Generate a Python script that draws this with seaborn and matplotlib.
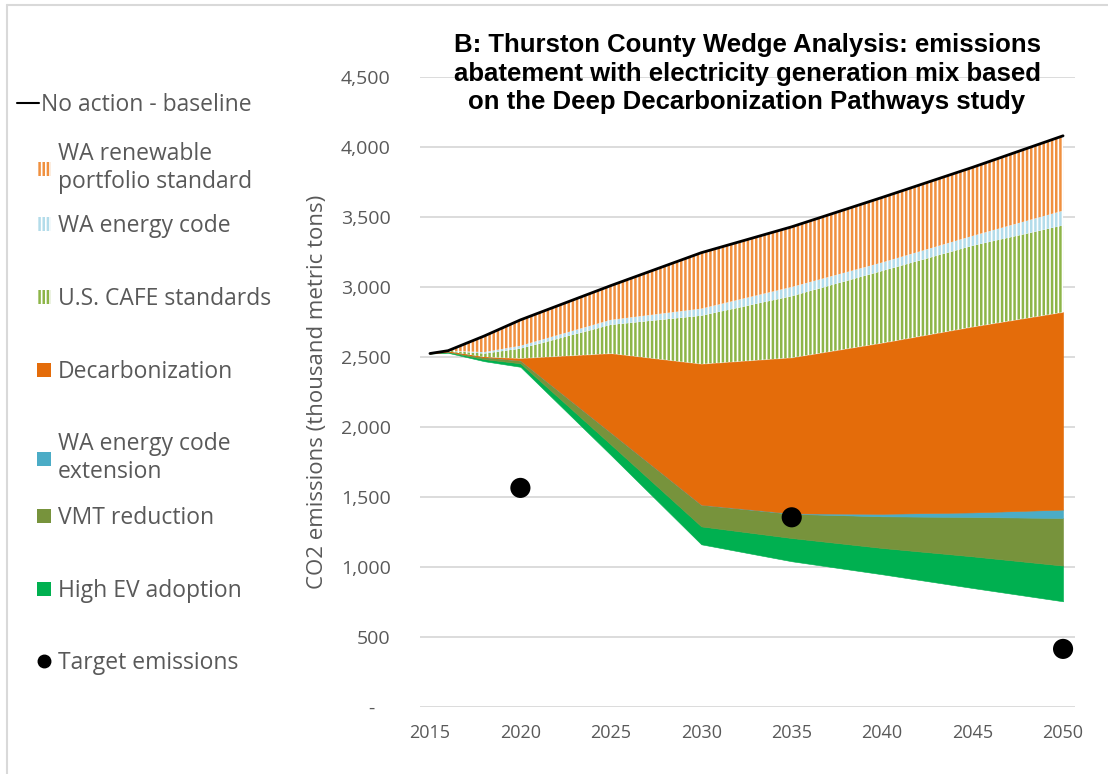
import numpy as np
import pandas as pd
import matplotlib
matplotlib.use('Agg')
import matplotlib.pyplot as plt
from matplotlib.patches import Patch
from matplotlib.lines import Line2D
import seaborn as sns

# thousand metric tons CO2
years = [2015, 2016, 2018, 2020, 2025, 2030, 2035, 2040, 2045, 2050]
remaining = [2525, 2530, 2470, 2430, 1800, 1162, 1041, 948, 850, 755]
high_ev = [0, 5, 15, 25, 75, 128, 166, 188, 226, 255]
vmt = [0, 5, 15, 20, 85, 155, 173, 226, 281, 340]
code_ext = [0, 0, 0, 0, 0, 0, 3, 18, 33, 60]
decarb = [0, 0, 0, 15, 565, 1005, 1112, 1220, 1325, 1410]
cafe = [0, 5, 25, 70, 205, 345, 440, 515, 580, 620]
energy_code = [0, 0, 10, 20, 35, 50, 65, 60, 70, 105]
rps = [0, 0, 115, 185, 245, 400, 430, 465, 490, 535]

target_years = [2020, 2035, 2050]
target_values = [1565, 1355, 415]

x_ticks = [2015, 2020, 2025, 2030, 2035, 2040, 2045, 2050]
y_ticks = [0, 500, 1000, 1500, 2000, 2500, 3000, 3500, 4000, 4500]

W, H = 1108, 774
GREY = '#595959'

# bottom -> top: (label, values, colour, hatched)
wedges = [
   ('High EV adoption', high_ev, '#00B050', False),
   ('VMT reduction', vmt, '#77933C', False),
   ('WA energy code\nextension', code_ext, '#4BACC6', False),
   ('Decarbonization', decarb, '#E46C0A', False),
   ('U.S. CAFE standards', cafe, '#8DB548', True),
   ('WA energy code', energy_code, '#B3DCEA', True),
   ('WA renewable\nportfolio standard', rps, '#F0903F', True),
]

sns.set_theme(style='white')
plt.rcParams['font.family'] = ['Open Sans', 'DejaVu Sans']
plt.rcParams['hatch.linewidth'] = 1.8

fig = plt.figure(figsize=(W / 100, H / 100), dpi=100)
ax = fig.add_axes([420 / W, 1 - 707 / H, 655 / W, 630 / H])

bottom = np.array(remaining, dtype=float)
for label, vals, color, hatched in wedges:
   top = bottom + np.array(vals, dtype=float)
   if hatched:
      ax.fill_between(years, bottom, top, facecolor='white', edgecolor=color,
                      hatch='||||', linewidth=0, zorder=2)
   else:
      ax.fill_between(years, bottom, top, facecolor=color, edgecolor=color,
                      linewidth=0.4, zorder=2)
   bottom = top
baseline = bottom

sns.lineplot(x=years, y=baseline, color='black', linewidth=2, ax=ax, zorder=4)
sns.scatterplot(x=target_years, y=target_values, s=210, color='black',
                edgecolor='none', ax=ax, zorder=5, clip_on=False)

ax.set_xlim(2014.45, 2050.66)
ax.set_ylim(0, 4500)
ax.set_xticks(x_ticks)
ax.set_yticks(y_ticks)
ax.set_yticklabels(['-   '] + [f'{v:,}' for v in y_ticks[1:]])
ax.tick_params(axis='y', length=0, pad=21, labelsize=14, labelcolor=GREY)
ax.tick_params(axis='x', length=0, pad=12, labelsize=13, labelcolor=GREY)
ax.grid(axis='y', color='#D9D9D9', linewidth=1.3)
ax.set_axisbelow(True)
sns.despine(ax=ax, left=True, bottom=True)
ax.set_xlabel('')
ax.set_ylabel('CO2 emissions (thousand metric tons)', fontsize=16, color=GREY)
ax.yaxis.set_label_coords((328 - 420) / 655, 0.5)

fig.text(747 / W, 1 - 33 / H,
         'B: Thurston County Wedge Analysis: emissions\n'
         'abatement with electricity generation mix based\n'
         'on the Deep Decarbonization Pathways study',
         ha='center', va='top', fontsize=18.5, fontweight='bold',
         family=['Liberation Sans', 'DejaVu Sans'], color='black', linespacing=1.24)

# legend keys, one per row as in the original layout
def add_key(handle, label, y_px, x_px=37, **kw):
   opts = dict(handlelength=0.6, handleheight=0.6, handletextpad=0.3)
   opts.update(kw)
   fig.legend([handle], [label], loc='center left',
              bbox_to_anchor=(x_px / W, 1 - y_px / H), frameon=False,
              borderpad=0, borderaxespad=0, fontsize=16.5, labelcolor=GREY, **opts)

add_key(Line2D([], [], color='black', linewidth=1.5), 'No action - baseline', 105,
        x_px=17, handlelength=0.95, handletextpad=0.1)
key_rows = [168, 226, 299, 372, 458, 518, 591]
for (label, vals, color, hatched), y_px in zip(wedges[::-1], key_rows):
   if hatched:
      h = Patch(facecolor='white', edgecolor=color, hatch='||||', linewidth=0)
   else:
      h = Patch(facecolor=color, edgecolor='none')
   add_key(h, label, y_px)
add_key(Line2D([], [], marker='o', color='black', linestyle='none', markersize=9),
        'Target emissions', 663)

# thin frame on the left and top, as in the source image
fig.add_artist(Line2D([7 / W, 7 / W], [0, 1 - 5 / H], color='#D9D9D9', linewidth=1.5))
fig.add_artist(Line2D([7 / W, 1], [1 - 5 / H, 1 - 5 / H], color='#D9D9D9', linewidth=1.5))

fig.savefig('out.png', dpi=100, facecolor='white')
